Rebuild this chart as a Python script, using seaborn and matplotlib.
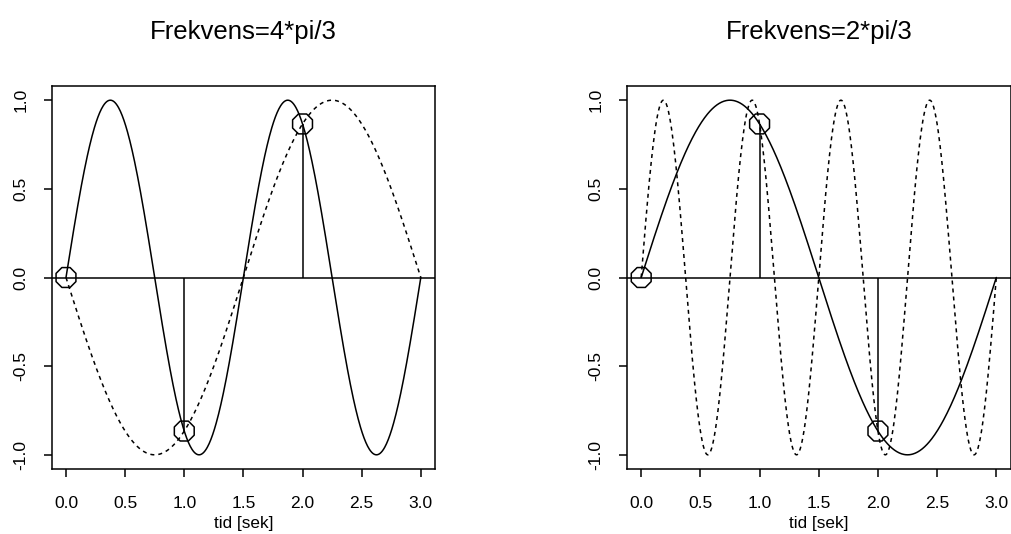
import numpy as np
import pandas as pd
import matplotlib
matplotlib.use("Agg")
import matplotlib.pyplot as plt
import seaborn as sns

# Angular frequencies of the two panels (rad/s) and their alias partners
freq_main = [4 * np.pi / 3, 2 * np.pi / 3]
freq_alias = [-2 * np.pi / 3, 8 * np.pi / 3]
titles = ["Frekvens=4*pi/3", "Frekvens=2*pi/3"]

# Sampling instants (one sample per second)
sample_t = [0.0, 1.0, 2.0]

x_ticks = [0.0, 0.5, 1.0, 1.5, 2.0, 2.5, 3.0]
y_ticks = [-1.0, -0.5, 0.0, 0.5, 1.0]
xlabel = "tid [sek]"

sns.set_style("ticks")
plt.rcParams["font.family"] = ["Liberation Sans", "DejaVu Sans"]
plt.rcParams["lines.scale_dashes"] = False
plt.rcParams["text.color"] = "black"
plt.rcParams["axes.labelcolor"] = "black"

W, H = 1011, 534
fig = plt.figure(figsize=(W / 100, H / 100), dpi=100)

px = lambda v: v * 72 / 100  # pixels -> points
LW = 1.1

boxes = [(51.8, 86, 435, 469), (627, 86, 1010.5, 469)]
t = np.linspace(0, 3, 601)

for i in range(2):
    x0, y0, x1, y1 = boxes[i]
    ax = fig.add_axes([x0 / W, 1 - y1 / H, (x1 - x0) / W, (y1 - y0) / H])
    df = pd.DataFrame({
        "t": t,
        "main": np.sin(freq_main[i] * t),
        "alias": np.sin(freq_alias[i] * t),
    })
    st = np.array(sample_t)
    sv = np.sin(freq_main[i] * st)

    sns.lineplot(data=df, x="t", y="main", ax=ax, color="black", lw=LW)
    sns.lineplot(data=df, x="t", y="alias", ax=ax, color="black", lw=LW,
                 linestyle=(0, (px(4), px(4))))
    ax.axhline(0, color="black", lw=LW)
    ax.vlines(st, 0, sv, color="black", lw=LW)
    sns.scatterplot(x=st, y=sv, ax=ax, marker="8", s=px(21.5) ** 2,
                    facecolor="none", edgecolor="black", linewidth=LW,
                    zorder=5)

    ax.set_xlim(-0.12, 3.12)
    ax.set_ylim(-1.08, 1.08)
    ax.set_xticks(x_ticks)
    ax.set_xticklabels([f"{v:.1f}" for v in x_ticks])
    ax.set_yticks(y_ticks)
    ax.set_yticklabels([f"{v:.1f}" for v in y_ticks], rotation=90, va="center")
    ax.tick_params(axis="both", direction="out", length=px(8), width=LW,
                   color="black", labelsize=12.5, labelcolor="black")
    ax.tick_params(axis="x", pad=14)
    ax.tick_params(axis="y", pad=11)
    for s in ax.spines.values():
        s.set_visible(True)
        s.set_color("black")
        s.set_linewidth(LW)
    ax.set_xlabel(xlabel, fontsize=12.3, labelpad=3.5, color="black")
    ax.set_ylabel("")
    ax.set_title(titles[i], fontsize=18.5, pad=34, color="black")

fig.savefig("out.png", dpi=100, facecolor="white")
